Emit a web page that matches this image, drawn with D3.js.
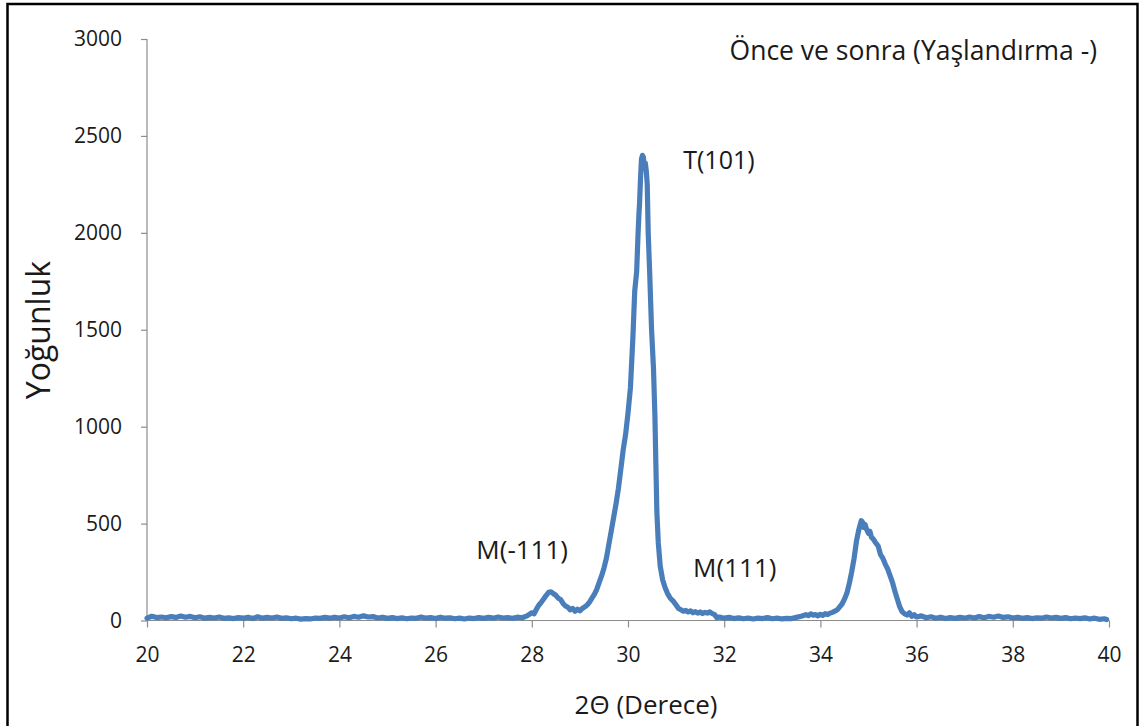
<!DOCTYPE html>
<html>
<head>
<meta charset="utf-8">
<script src="https://cdn.jsdelivr.net/npm/d3@7"></script>
<style>
  html, body { margin: 0; padding: 0; background: #fff; }
  svg { display: block; font-family: "Open Sans", sans-serif; }
</style>
</head>
<body>
<svg id="chart" width="1144" height="726"></svg>
<script>
// ---- data ----
const twoTheta = [
  20.0,20.1,20.2,20.3,20.4,20.5,20.6,20.7,20.8,20.9,
  21.0,21.1,21.2,21.3,21.4,21.5,21.6,21.7,21.8,21.9,
  22.0,22.1,22.2,22.3,22.4,22.5,22.6,22.7,22.8,22.9,
  23.0,23.1,23.2,23.3,23.4,23.5,23.6,23.7,23.8,23.9,
  24.0,24.1,24.2,24.3,24.4,24.5,24.6,24.7,24.8,24.9,
  25.0,25.1,25.2,25.3,25.4,25.5,25.6,25.7,25.8,25.9,
  26.0,26.1,26.2,26.3,26.4,26.5,26.6,26.7,26.8,26.9,
  27.0,27.1,27.2,27.3,27.4,27.5,27.6,27.7,27.8,27.9,
  28.0,28.05,28.1,28.15,28.2,28.25,28.3,28.35,28.4,28.45,
  28.5,28.55,28.6,28.65,28.7,28.75,28.8,28.85,28.9,28.95,
  29.0,29.05,29.1,29.15,29.2,29.25,29.3,29.35,29.4,29.45,
  29.5,29.55,29.6,29.65,29.7,29.75,29.8,29.85,29.9,29.95,
  30.0,30.05,30.1,30.14,30.18,30.21,30.23,30.24,30.26,30.28,
  30.30,30.32,30.34,30.36,30.38,30.40,30.42,30.45,30.49,30.53,
  30.56,30.58,30.60,30.63,30.67,30.72,30.77,30.82,30.88,30.94,
  31.0,31.05,31.1,31.15,31.2,31.25,31.3,31.35,31.4,31.45,
  31.5,31.55,31.6,31.65,31.7,31.75,31.8,31.85,31.9,32.0,
  32.1,32.2,32.3,32.4,32.5,32.6,32.7,32.8,32.9,33.0,
  33.1,33.2,33.3,33.4,33.5,33.6,33.7,33.75,33.8,33.85,
  33.9,33.95,34.0,34.05,34.1,34.15,34.2,34.25,34.3,34.35,
  34.4,34.45,34.5,34.55,34.6,34.65,34.7,34.75,34.8,34.85,
  34.88,34.9,34.93,34.96,35.0,35.03,35.06,35.1,35.15,35.2,
  35.25,35.3,35.35,35.4,35.45,35.5,35.55,35.6,35.65,35.7,
  35.75,35.8,35.85,35.9,35.95,36.0,36.1,36.2,36.3,36.4,
  36.5,36.6,36.7,36.8,36.9,37.0,37.1,37.2,37.3,37.4,
  37.5,37.6,37.7,37.8,37.9,38.0,38.1,38.2,38.3,38.4,
  38.5,38.6,38.7,38.8,38.9,39.0,39.1,39.2,39.3,39.4,
  39.5,39.6,39.7,39.8,39.9,39.95
];
const intensity = [
  12,22,15,18,14,20,16,23,17,21,
  14,19,12,16,13,18,11,14,10,15,
  12,17,10,19,12,16,13,18,11,14,
  9,12,7,10,8,13,11,16,12,17,
  13,19,14,21,17,24,18,20,13,17,
  11,15,10,14,9,13,11,18,12,15,
  10,17,12,14,9,12,8,13,10,15,
  11,16,12,18,13,15,11,17,14,24,
  40,35,60,80,95,112,130,145,148,138,
  130,115,108,88,75,68,55,62,48,58,
  50,62,70,80,95,115,135,160,195,230,
  270,320,390,460,530,600,680,780,880,960,
  1070,1200,1450,1700,1800,2000,2110,2150,2280,2380,
  2400,2390,2330,2360,2320,2250,2000,1800,1500,1300,
  1050,800,560,400,280,210,170,140,115,100,
  80,62,55,48,52,44,50,40,46,38,
  44,36,42,38,45,36,30,14,18,12,
  16,10,14,9,13,8,12,10,15,9,
  12,8,11,10,16,22,30,25,34,28,
  30,24,32,26,35,30,38,42,48,55,
  70,85,110,140,190,250,320,410,470,515,
  505,480,495,470,450,460,430,420,400,385,
  340,320,290,265,230,195,150,110,70,45,
  35,28,40,22,30,18,24,14,19,12,
  17,10,15,11,16,12,18,13,20,14,
  21,17,23,16,19,13,17,11,15,10,
  14,12,18,13,16,11,15,9,13,10,
  14,8,12,6,9,5
];
const xTicks = [20,22,24,26,28,30,32,34,36,38,40];
const yTicks = [0,500,1000,1500,2000,2500,3000];
const peakLabels = ["T(101)", "M(-111)", "M(111)"];
const peakLabelAt = [[31.89, 2362], [27.8, 353], [32.22, 261]];
const cornerNote = "Önce ve sonra (Yaşlandırma -)";
const xTitle = "2Θ (Derece)";
const yTitle = "Yoğunluk";

(function () {
  const svg = d3.select("#chart");
  const mLeft = 147, mRight = 1109, mTop = 39, mBottom = 620.5;
  const x = d3.scaleLinear().domain([20, 40]).range([mLeft, mRight]);
  const y = d3.scaleLinear().domain([0, 3000]).range([mBottom, mTop]);
  const axisColor = "#8c8c8c";
  const textColor = "#1a1a1a";
  const labelSizes = [25, 26, 26];

  // outer frame
  svg.append("rect").attr("x", 7.5).attr("y", 4).attr("width", 1130).attr("height", 740)
    .attr("fill", "none").attr("stroke", "#000").attr("stroke-width", 2.5);

  // y axis
  const yAxis = svg.append("g").attr("transform", `translate(${mLeft},0)`)
    .call(d3.axisLeft(y).tickValues(yTicks).tickSize(6).tickPadding(19).tickFormat(d3.format("d")));
  yAxis.select(".domain").attr("stroke", axisColor).attr("stroke-width", 1.2).attr("d", `M0,${mTop}V${mBottom}`);
  yAxis.selectAll(".tick line").attr("stroke", axisColor).attr("stroke-width", 1.2);
  yAxis.selectAll(".tick text").attr("fill", textColor).style("font-size", "21px")
    .style("font-family", "'Open Sans', sans-serif");

  // x axis
  const xAxis = svg.append("g").attr("transform", `translate(0,${mBottom})`)
    .call(d3.axisBottom(x).tickValues(xTicks).tickSize(7).tickPadding(20).tickFormat(d3.format("d")));
  xAxis.select(".domain").attr("stroke", axisColor).attr("stroke-width", 1.2).attr("d", `M${mLeft},0H${mRight}`);
  xAxis.selectAll(".tick line").attr("stroke", axisColor).attr("stroke-width", 1.2);
  xAxis.selectAll(".tick text").attr("fill", textColor).style("font-size", "21px")
    .style("font-family", "'Open Sans', sans-serif");

  // line
  const data = twoTheta.map((t, i) => ({ t, v: intensity[i] }));
  svg.append("path").datum(data)
    .attr("fill", "none").attr("stroke", "#4a7ebb").attr("stroke-width", 5.2)
    .attr("stroke-linejoin", "round").attr("stroke-linecap", "round")
    .attr("d", d3.line().x(d => x(d.t)).y(d => y(d.v)));

  // peak labels
  svg.selectAll("text.peak").data(peakLabels).enter().append("text")
    .attr("class", "peak")
    .attr("x", (d, i) => x(peakLabelAt[i][0]))
    .attr("y", (d, i) => y(peakLabelAt[i][1]))
    .attr("text-anchor", "middle").attr("dominant-baseline", "middle")
    .attr("fill", textColor).style("font-size", (d, i) => labelSizes[i] + "px").text(d => d);

  // corner note
  svg.append("text").attr("x", 1097).attr("y", 60).attr("text-anchor", "end")
    .attr("fill", textColor).style("font-size", "26.5px").text(cornerNote);

  // axis titles
  svg.append("text").attr("x", 646).attr("y", 714).attr("text-anchor", "middle")
    .attr("fill", textColor).style("font-size", "26px").text(xTitle);
  svg.append("text").attr("transform", "translate(50,330) rotate(-90)").attr("text-anchor", "middle")
    .attr("fill", textColor).style("font-size", "32px").text(yTitle);
})();
</script>
</body>
</html>
